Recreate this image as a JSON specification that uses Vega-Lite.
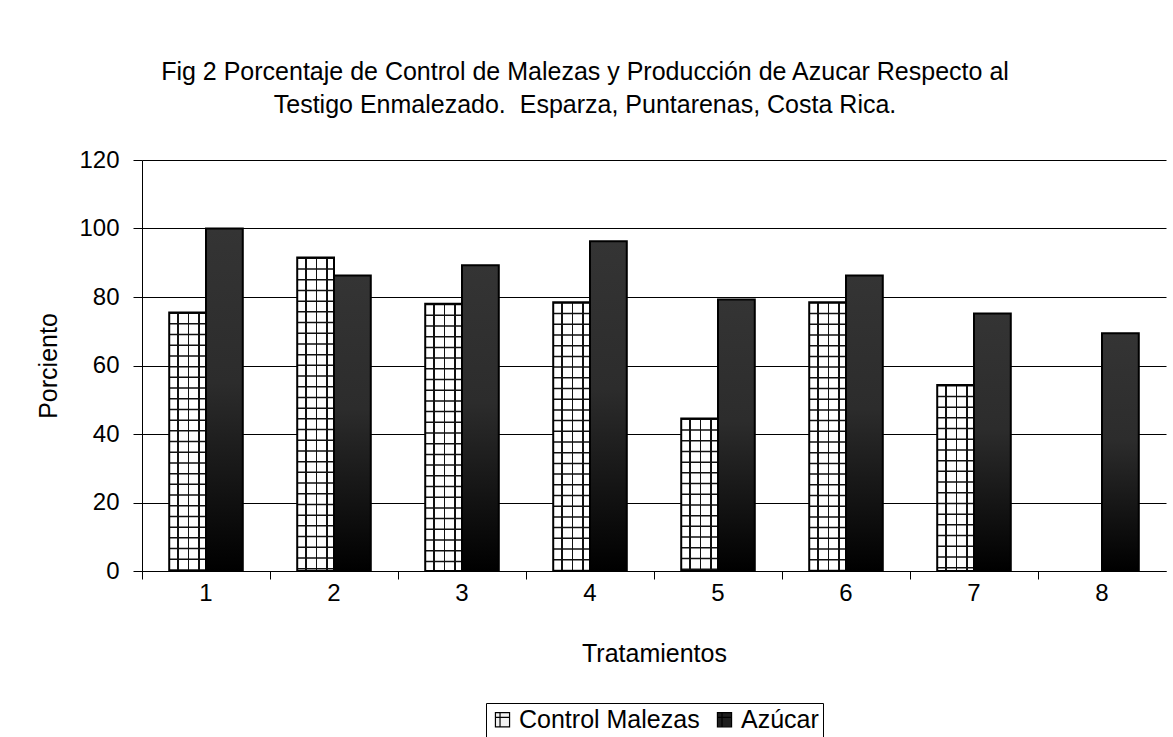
{
  "$schema": "https://vega.github.io/schema/vega-lite/v6.json",
  "width": 1024,
  "height": 411,
  "autosize": {"type": "none"},
  "padding": {"left": 142, "top": 160, "right": 7, "bottom": 166},
  "background": "#ffffff",
  "title": {
    "text": ["Fig 2 Porcentaje de Control de Malezas y Producción de Azucar Respecto al", "Testigo Enmalezado.\u00a0 Esparza, Puntarenas, Costa Rica."],
    "font": "Liberation Sans",
    "fontSize": 25,
    "fontWeight": "normal",
    "color": "#000000",
    "lineHeight": 33,
    "anchor": "middle",
    "frame": "group",
    "dx": -69,
    "offset": 30
  },
  "data": {
    "values": [
      {"t": "1", "serie": "Control Malezas", "v": 75.5},
      {"t": "1", "serie": "Azúcar", "v": 100},
      {"t": "2", "serie": "Control Malezas", "v": 91.5},
      {"t": "2", "serie": "Azúcar", "v": 86.3},
      {"t": "3", "serie": "Control Malezas", "v": 78},
      {"t": "3", "serie": "Azúcar", "v": 89.3},
      {"t": "4", "serie": "Control Malezas", "v": 78.5},
      {"t": "4", "serie": "Azúcar", "v": 96.3},
      {"t": "5", "serie": "Control Malezas", "v": 44.5},
      {"t": "5", "serie": "Azúcar", "v": 79.3},
      {"t": "6", "serie": "Control Malezas", "v": 78.5},
      {"t": "6", "serie": "Azúcar", "v": 86.3},
      {"t": "7", "serie": "Control Malezas", "v": 54.3},
      {"t": "7", "serie": "Azúcar", "v": 75.2},
      {"t": "8", "serie": "Azúcar", "v": 69.4}
    ]
  },
  "encoding": {
    "x": {
      "field": "t",
      "type": "ordinal",
      "scale": {"paddingInner": 0, "paddingOuter": 0},
      "axis": {
        "title": "Tratamientos",
        "titleFontSize": 25,
        "labelAngle": 0,
        "bandPosition": 0,
        "labelOffset": 0,
        "tickSize": 8,
        "labelPadding": 2,
        "titlePadding": 36
      }
    },
    "xOffset": {
      "field": "serie",
      "type": "nominal",
      "scale": {"domain": ["Control Malezas", "Azúcar"], "paddingInner": 0, "paddingOuter": 0.74}
    },
    "y": {
      "field": "v",
      "type": "quantitative",
      "scale": {"domain": [0, 120], "nice": false},
      "axis": {
        "title": "Porciento",
        "titleFontSize": 25,
        "values": [0, 20, 40, 60, 80, 100, 120],
        "grid": true,
        "tickSize": 9,
        "labelPadding": 14,
        "titlePadding": 17
      }
    }
  },
  "layer": [
    {
      "transform": [{"filter": "datum.serie === 'Control Malezas'"}],
      "mark": {
        "type": "bar",
        "fill": {
          "gradient": "linear", "x1": 0, "y1": 0, "x2": 1, "y2": 0,
          "stops": [
            {"offset": 0, "color": "#ffffff"},
            {"offset": 0.215, "color": "#ffffff"},
            {"offset": 0.215, "color": "#111111"},
            {"offset": 0.255, "color": "#111111"},
            {"offset": 0.255, "color": "#ffffff"},
            {"offset": 0.5, "color": "#ffffff"},
            {"offset": 0.5, "color": "#111111"},
            {"offset": 0.54, "color": "#111111"},
            {"offset": 0.54, "color": "#ffffff"},
            {"offset": 0.79, "color": "#ffffff"},
            {"offset": 0.79, "color": "#111111"},
            {"offset": 0.83, "color": "#111111"},
            {"offset": 0.83, "color": "#ffffff"},
            {"offset": 1, "color": "#ffffff"}
          ]
        }
      }
    },
    {
      "transform": [{"filter": "datum.serie === 'Control Malezas'"}],
      "mark": {"type": "rule", "stroke": "#111111", "strokeWidth": 37, "strokeDash": [1.5, 9.2], "strokeCap": "butt"},
      "encoding": {"y2": {"datum": 0}}
    },
    {
      "transform": [{"filter": "datum.serie === 'Azúcar'"}],
      "mark": {
        "type": "bar",
        "fill": {
          "gradient": "linear", "x1": 0, "y1": 0, "x2": 0, "y2": 1,
          "stops": [
            {"offset": 0, "color": "#343434"},
            {"offset": 0.45, "color": "#2c2c2c"},
            {"offset": 1, "color": "#000000"}
          ]
        }
      }
    },
    {
      "mark": {"type": "bar", "fillOpacity": 0, "stroke": "#000000", "strokeWidth": 2},
      "encoding": {
        "fill": {
          "field": "serie",
          "type": "nominal",
          "scale": {"domain": ["Control Malezas", "Azúcar"], "range": ["#f2f2f2", "#1e1e1e"]},
          "legend": {
            "title": null,
            "orient": "bottom",
            "direction": "horizontal",
            "offset": 37,
            "strokeColor": "#000000",
            "padding": 4,
            "labelFont": "Liberation Sans",
            "labelFontSize": 25,
            "labelColor": "#000000",
            "labelLimit": 0,
            "labelOffset": 4,
            "columnPadding": 12,
            "symbolType": "M-1,-1H1V1H-1Z M-0.35,-1V1 M-1,-0.35H1",
            "symbolSize": 200,
            "symbolStrokeColor": "#000000",
            "symbolStrokeWidth": 1.2,
            "symbolOpacity": 1,
            "encode": {"symbols": {"update": {"fillOpacity": {"value": 1}, "opacity": {"value": 1}}}}
          }
        }
      }
    }
  ],
  "config": {
    "view": {"stroke": null},
    "legend": {"layout": {"bottom": {"anchor": "middle"}}},
    "axis": {
      "labelFont": "Liberation Sans",
      "labelFontSize": 24,
      "labelColor": "#000000",
      "titleFont": "Liberation Sans",
      "titleFontSize": 25,
      "titleFontWeight": "normal",
      "titleColor": "#000000",
      "domainColor": "#000000",
      "domainWidth": 1,
      "tickColor": "#000000",
      "tickWidth": 1,
      "gridColor": "#000000",
      "gridWidth": 1,
      "gridOpacity": 1
    }
  }
}
